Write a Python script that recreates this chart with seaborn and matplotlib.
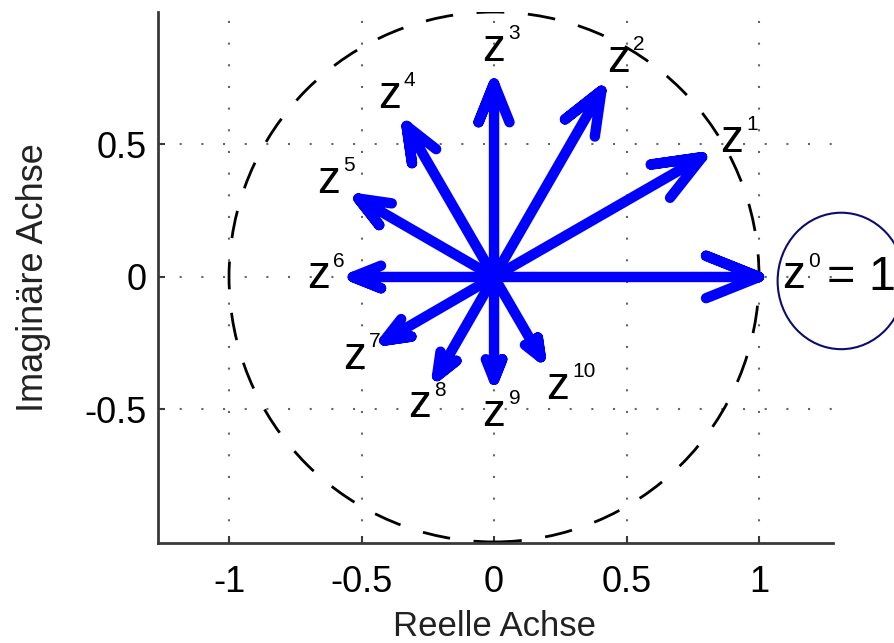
import numpy as np
import pandas as pd
import matplotlib
matplotlib.use("Agg")
import matplotlib.pyplot as plt
import seaborn as sns
from matplotlib.patches import Circle, Ellipse

# ---- data ----
powers = [0, 1, 2, 3, 4, 5, 6, 7, 8, 9, 10]
real_part = [1.0, 0.785, 0.405, 0.0, -0.330, -0.512, -0.533, -0.414, -0.215, 0.0, 0.176]
imag_part = [0.0, 0.452, 0.703, 0.730, 0.570, 0.296, 0.0, -0.240, -0.374, -0.388, -0.303]
x_ticks = [-1, -0.5, 0, 0.5, 1]
y_ticks = [-0.5, 0, 0.5]
x_tick_labels = ["-1", "-0.5", "0", "0.5", "1"]
y_tick_labels = ["-0.5", "0", "0.5"]
x_label = "Reelle Achse"
y_label = "Imaginäre Achse"
unit_value_text = "= 1"

sns.set_theme(style="white")
plt.rcParams["font.family"] = ["Liberation Sans", "DejaVu Sans"]

fig = plt.figure(figsize=(8.95, 6.43), dpi=100)
ax = fig.add_axes([158 / 895, 100 / 643, 675 / 895, 531 / 643])

# arrow polylines as in MATLAB compass: 0 -> z -> head arm -> z -> head arm
rows = []
for k, re, im in zip(powers, real_part, imag_part):
    z = complex(re, im)
    pts = [0, z, 0.8 * z + 0.08j * z, z, 0.8 * z - 0.08j * z]
    for i, p in enumerate(pts):
        rows.append({"k": k, "order": i, "x": p.real, "y": p.imag})
arrows = pd.DataFrame(rows)

sns.lineplot(data=arrows, x="x", y="y", units="k", estimator=None, sort=False,
             color="#0000ff", linewidth=7.5, legend=False, ax=ax,
             solid_capstyle="round", solid_joinstyle="round", zorder=3)

# unit circle (dashed)
ax.add_patch(Circle((0, 0), 1, fill=False, edgecolor="black", linewidth=2.0,
                    linestyle=(0, (10, 8.5)), zorder=2))

# labels z^k
d = 0.13
for k, re, im in zip(powers, real_part, imag_part):
    r = np.hypot(re, im)
    px = re + d * re / r
    py = im + d * im / r
    ax.annotate("z", (px, py), xytext=(0, -8.3), textcoords="offset points",
                ha="center", va="baseline", fontsize=33, color="black", zorder=4)
    ax.annotate(str(k), (px, py), xytext=(10.5, 7.5), textcoords="offset points",
                ha="left", va="baseline", fontsize=15, color="black", zorder=4)
    if k == 0:
        ax.annotate(unit_value_text, (px, py), xytext=(24, -9.4), textcoords="offset points",
                    ha="left", va="baseline", fontsize=35, color="black",
                    annotation_clip=False, zorder=4)
        ax.add_patch(Ellipse((px + 0.18, py - 0.015), 0.48, 0.515, fill=False,
                             edgecolor="#0c0c6e", linewidth=1.5, clip_on=False, zorder=5))

ax.set_xlim(-1.268, 1.279)
ax.set_ylim(-1.004, 1.0)
ax.set_xticks(x_ticks)
ax.set_xticklabels(x_tick_labels)
ax.set_yticks(y_ticks)
ax.set_yticklabels(y_tick_labels)

ax.grid(True, color="0.4", linestyle=(0, (1, 9.4)), linewidth=1.5)
ax.set_axisbelow(True)

for side in ["top", "right"]:
    ax.spines[side].set_visible(False)
for side in ["left", "bottom"]:
    ax.spines[side].set_color("#3a3a3a")
    ax.spines[side].set_linewidth(2.0)

ax.tick_params(axis="both", direction="in", length=5, width=1.5, colors="#3a3a3a",
               labelcolor="black", labelsize=26, left=True, bottom=True)
ax.tick_params(axis="x", pad=16)
ax.tick_params(axis="y", pad=8)

ax.set_xlabel(x_label, fontsize=25, color="#222222")
ax.set_ylabel(y_label, fontsize=26, color="#222222")
ax.xaxis.set_label_coords(0.499, -0.127)
ax.yaxis.set_label_coords(-0.158, 0.5)

fig.savefig("out.png", dpi=100)
